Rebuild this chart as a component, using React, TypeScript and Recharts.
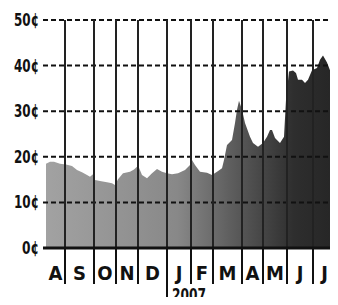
import React from 'react';
import {
  AreaChart,
  Area,
  XAxis,
  YAxis,
  ReferenceLine,
} from 'recharts';

// Position along the time axis (trading-day-ish units) and price in cents
const positions = [
  0, 4, 8, 14, 20, 26, 31, 36, 41, 44, 47, 49, 54, 61, 66, 69, 72, 77, 84, 88, 91,
  93, 96, 101, 106, 111, 116, 121, 126, 132, 139, 144, 146, 149, 154, 161, 166, 171,
  176, 178, 181, 186, 189, 191, 193, 196, 199, 204, 207, 212, 217, 221, 224, 226,
  229, 234, 238, 240, 243, 247, 250, 252, 256, 259, 262, 266, 271, 274, 277, 281,
  284, 287, 290, 292,
];
const cents = [
  18.5, 18.9, 18.9, 18.5, 18.3, 18.0, 17.1, 16.6, 16.0, 15.6, 16.2, 14.9, 14.7, 14.4,
  14.2, 13.8, 15.1, 16.4, 16.7, 17.2, 17.8, 17.6, 16.0, 15.3, 16.4, 17.3, 16.7, 16.4,
  16.2, 16.4, 17.1, 18.2, 19.3, 18.2, 16.7, 16.5, 16.0, 16.7, 17.5, 19.3, 22.6, 23.7,
  27.4, 30.3, 32.3, 30.3, 27.4, 24.4, 23.0, 22.2, 23.0, 24.4, 25.9, 25.9, 24.1, 23.0,
  24.4, 32.5, 38.7, 38.9, 38.4, 36.9, 36.9, 36.2, 36.9, 39.0, 39.5, 41.3, 42.2, 40.7,
  39.0, 38.4, 36.9, 34.6,
];

const monthLabels = ['A', 'S', 'O', 'N', 'D', 'J', 'F', 'M', 'A', 'M', 'J', 'J'];
const monthStarts = [0, 19, 48, 70, 92, 121, 145, 167, 196, 217, 241, 267, 290];
const yearLabel = '2007';
const yearIndex = 5;
const yTicks = [0, 10, 20, 30, 40, 50];

const data = positions.map((t, i) => ({ t, price: cents[i] }));
const boundaries = monthStarts.slice(1);
const centers = monthLabels.map((_, i) => (monthStarts[i] + monthStarts[i + 1]) / 2);

const FONT = '"Liberation Sans Narrow", "Arial Narrow", "DejaVu Sans Condensed", sans-serif';

function MonthTick(props: any) {
  const { x, y, payload } = props;
  const v = payload.value;
  const bi = boundaries.indexOf(v);
  if (bi >= 0) {
    const isYear = bi + 1 === yearIndex;
    return (
      <g>
        <line x1={x} x2={x} y1={y} y2={y + (isYear ? 57 : 36)} stroke="#111" strokeWidth={2} />
        {isYear && (
          <text
            x={x + 5}
            y={y + 53}
            fontFamily={FONT}
            fontWeight="bold"
            fontSize={17}
            fill="#111"
            textLength={34}
            lengthAdjust="spacingAndGlyphs"
          >
            {yearLabel}
          </text>
        )}
      </g>
    );
  }
  const ci = centers.indexOf(v);
  return (
    <text x={x} y={y + 32} textAnchor="middle" fontFamily={FONT} fontWeight="bold" fontSize={20} fill="#111">
      {monthLabels[ci]}
    </text>
  );
}

function CentTick(props: any) {
  const { y, payload } = props;
  return (
    <text
      x={39}
      y={y + 6}
      textAnchor="end"
      fontFamily={FONT}
      fontWeight="bold"
      fontSize={18}
      fill="#111"
      textLength={payload.value === 0 ? 17 : 25}
      lengthAdjust="spacingAndGlyphs"
    >
      {`${payload.value}¢`}
    </text>
  );
}

export default function App() {
  return (
    <div style={{ margin: -8, width: 338, height: 305, background: '#fff' }}>
      <AreaChart width={338} height={305} data={data} margin={{ top: 20, right: 0, bottom: 0, left: 0 }}>
        <defs>
          <linearGradient id="fade" x1="0" y1="0" x2="1" y2="0">
            <stop offset="0%" stopColor="#a2a2a2" />
            <stop offset="45%" stopColor="#888" />
            <stop offset="65%" stopColor="#5a5a5a" />
            <stop offset="85%" stopColor="#2e2e2e" />
            <stop offset="100%" stopColor="#252525" />
          </linearGradient>
        </defs>
        <XAxis
          dataKey="t"
          type="number"
          domain={[-3, 292]}
          ticks={[...boundaries, ...centers]}
          tick={<MonthTick />}
          tickLine={false}
          tickSize={0}
          tickMargin={0}
          axisLine={false}
          height={57}
          interval={0}
          allowDataOverflow
        />
        <YAxis
          type="number"
          domain={[0, 50]}
          ticks={yTicks}
          tick={<CentTick />}
          axisLine={false}
          tickLine={false}
          width={43}
        />
        <Area
          type="linear"
          dataKey="price"
          stroke="none"
          fill="url(#fade)"
          fillOpacity={1}
          isAnimationActive={false}
        />
        {yTicks.slice(1).map((v) => (
          <ReferenceLine key={`g${v}`} y={v} stroke="#111" strokeWidth={2} strokeDasharray="5 3" />
        ))}
        {boundaries.map((b) => (
          <ReferenceLine key={`b${b}`} x={b} stroke="#222" strokeWidth={2} />
        ))}
        <ReferenceLine y={0} stroke="#111" strokeWidth={3} />
      </AreaChart>
    </div>
  );
}
